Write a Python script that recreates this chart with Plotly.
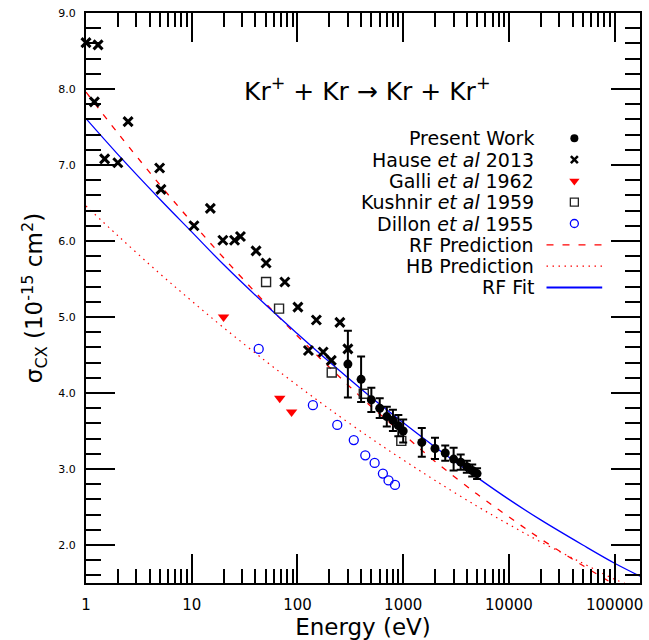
import plotly.graph_objects as go

# ---------------- data ----------------
present_E = [300, 400, 500, 600, 700, 800, 900, 1000, 1500, 2000, 2500, 3000, 3500, 4000, 4500, 5000]
present_sig = [4.38, 4.18, 3.91, 3.80, 3.69, 3.64, 3.57, 3.50, 3.35, 3.27, 3.21, 3.13, 3.09, 3.03, 2.98, 2.94]
present_err = [0.44, 0.30, 0.16, 0.13, 0.13, 0.14, 0.14, 0.15, 0.19, 0.14, 0.10, 0.15, 0.10, 0.08, 0.08, 0.07]

hause_E = [1.0, 1.2, 1.3, 1.5, 2.0, 2.5, 4.97, 5.12, 10.5, 15, 19.7, 25.4, 28.9, 40.6, 50.5, 76, 101, 127, 151, 175, 209, 252, 300]
hause_sig = [8.61, 7.83, 8.58, 7.08, 7.03, 7.57, 6.96, 6.68, 6.20, 6.43, 6.01, 6.01, 6.06, 5.87, 5.71, 5.46, 5.13, 4.56, 4.96, 4.54, 4.43, 4.93, 4.58]

galli_E = [20, 68, 88]
galli_sig = [5.00, 3.93, 3.75]

kushnir_E = [50.5, 67, 211, 424, 960]
kushnir_sig = [5.46, 5.11, 4.27, 3.99, 3.37]

dillon_E = [43, 140, 238, 341, 438, 537, 643, 727, 837]
dillon_sig = [4.58, 3.84, 3.58, 3.38, 3.18, 3.08, 2.94, 2.85, 2.79]

curve_E = [1, 2, 5, 10, 20, 50, 100, 200, 500, 1000, 2000, 5000, 10000, 20000, 50000, 100000, 174000]
rf_pred_sig = [7.96, 7.42, 6.74, 6.25, 5.78, 5.18, 4.75, 4.34, 3.82, 3.46, 3.10, 2.67, 2.37, 2.08, 1.73, 1.48, 1.30]
hb_pred_sig = [6.46, 6.07, 5.57, 5.21, 4.86, 4.42, 4.10, 3.79, 3.40, 3.12, 2.85, 2.51, 2.27, 2.04, 1.76, 1.55, 1.42]
rf_fit_sig = [7.61, 7.14, 6.55, 6.12, 5.69, 5.16, 4.78, 4.41, 3.94, 3.61, 3.29, 2.89, 2.60, 2.33, 2.00, 1.76, 1.59]

x_tick_vals = [1, 10, 100, 1000, 10000, 100000]
x_tick_text = ["1", "10", "100", "1000", "10000", "100000"]

legend_labels = ["Present Work", "Hause <i>et al</i> 2013", "Galli <i>et al</i> 1962",
                 "Kushnir <i>et al</i> 1959", "Dillon <i>et al</i> 1955",
                 "RF Prediction", "HB Prediction", "RF Fit"]

FONT = "DejaVu Sans"
RED = "#ff0000"
BLUE = "#0000ff"

fig = go.Figure()

# curves
fig.add_trace(go.Scatter(x=curve_E, y=rf_pred_sig, mode="lines", line_shape="spline",
                         line=dict(color=RED, width=1.3, dash="6px,8px"), showlegend=False))
fig.add_trace(go.Scatter(x=curve_E, y=hb_pred_sig, mode="lines", line_shape="spline",
                         line=dict(color=RED, width=1.2, dash="1.5px,4.5px"), showlegend=False))
fig.add_trace(go.Scatter(x=curve_E, y=rf_fit_sig, mode="lines", line_shape="spline",
                         line=dict(color=BLUE, width=1.3), showlegend=False))

# data sets
fig.add_trace(go.Scatter(x=dillon_E, y=dillon_sig, mode="markers",
                         marker=dict(symbol="circle-open", size=9, color=BLUE, line=dict(width=1.3)),
                         showlegend=False))
fig.add_trace(go.Scatter(x=kushnir_E, y=kushnir_sig, mode="markers",
                         marker=dict(symbol="square-open", size=9, color="#222222", line=dict(width=1.4)),
                         showlegend=False))
fig.add_trace(go.Scatter(x=galli_E, y=galli_sig, mode="markers",
                         marker=dict(symbol="triangle-down", size=10, color=RED),
                         showlegend=False))
fig.add_trace(go.Scatter(x=hause_E, y=hause_sig, mode="markers", cliponaxis=False,
                         marker=dict(symbol="x-thin-open", size=9, color="black", line=dict(width=3, color="black")),
                         showlegend=False))
fig.add_trace(go.Scatter(x=present_E, y=present_sig, mode="markers",
                         marker=dict(symbol="circle", size=9, color="black"),
                         error_y=dict(type="data", array=present_err, color="black", thickness=2, width=4),
                         showlegend=False))

# ---------------- manual legend (layout) ----------------
L, R, T, B = 86, 6, 13, 57
W, H = 649, 640
pw, ph = W - L - R, H - T - B
def px2paper(xp, yp):
    return (xp - L) / pw, (H - B - yp) / ph

row_y = [138.3, 159.6, 180.9, 202.2, 223.5, 244.8, 266.1, 287.4]
text_x = 538
sym_x = 577
line_x0, line_x1 = 549, 605

for lab, yp in zip(legend_labels, row_y):
    xa, ya = px2paper(text_x, yp)
    fig.add_annotation(x=xa, y=ya, xref="paper", yref="paper", text=lab, showarrow=False,
                       xanchor="right", yanchor="middle", font=dict(family=FONT, size=19, color="black"))

sym_specs = [
    dict(symbol="circle", size=8, color="black"),
    dict(symbol="x-thin-open", size=7, color="black", line=dict(width=2.5, color="black")),
    dict(symbol="triangle-down", size=9, color=RED),
    dict(symbol="square-open", size=8, color="#222222", line=dict(width=1.3)),
    dict(symbol="circle-open", size=8, color=BLUE, line=dict(width=1.3)),
]
for spec, yp in zip(sym_specs, row_y[:5]):
    xa, ya = px2paper(sym_x, yp)
    fig.add_trace(go.Scatter(x=[xa], y=[ya], xaxis="x2", yaxis="y2", mode="markers",
                             marker=spec, showlegend=False, hoverinfo="skip"))

line_specs = [dict(color=RED, width=1.3, dash="7px,9px"),
              dict(color=RED, width=1.2, dash="1.5px,4.5px"),
              dict(color=BLUE, width=2)]
for spec, yp in zip(line_specs, row_y[5:]):
    xa0, ya = px2paper(line_x0, yp)
    xa1, _ = px2paper(line_x1, yp)
    fig.add_shape(type="line", xref="paper", yref="paper", x0=xa0, x1=xa1, y0=ya, y1=ya, line=spec)

# reaction title
tx, ty = px2paper(369, 90)
fig.add_annotation(x=tx, y=ty, xref="paper", yref="paper", showarrow=False,
                   text="Kr<sup>+</sup> + Kr → Kr + Kr<sup>+</sup>",
                   font=dict(family=FONT, size=25, color="black"), xanchor="center", yanchor="middle")

minor_x = [m * 10 ** d for d in range(0, 6) for m in range(2, 10)]

fig.update_layout(
    width=W, height=H,
    margin=dict(l=L, r=R, t=T, b=B),
    paper_bgcolor="white", plot_bgcolor="white",
    font=dict(family=FONT, color="black"),
    xaxis=dict(type="log", range=[0, 5.24], showgrid=False, zeroline=False,
               showline=True, linecolor="black", linewidth=2, mirror="allticks",
               ticks="inside", ticklen=29, tickwidth=2, tickcolor="black",
               tickmode="array", tickvals=x_tick_vals, ticktext=x_tick_text,
               tickfont=dict(size=15, family=FONT), ticklabelstandoff=7,
               minor=dict(ticks="inside", ticklen=14, tickwidth=2, tickcolor="black",
                          tickmode="array", tickvals=minor_x, showgrid=False),
               title=dict(text="Energy (eV)", font=dict(size=23, family=FONT), standoff=3)),
    yaxis=dict(range=[1.5, 9.0], showgrid=False, zeroline=False,
               showline=True, linecolor="black", linewidth=2, mirror="allticks",
               ticks="inside", ticklen=29, tickwidth=2, tickcolor="black",
               tick0=0, dtick=1, tickformat=".1f",
               tickfont=dict(size=11, family=FONT), ticklabelstandoff=6,
               minor=dict(ticks="inside", ticklen=15, tickwidth=2, tickcolor="black",
                          dtick=0.2, showgrid=False),
               title=dict(text="σ<sub>CX</sub> (10<sup>-15</sup> cm<sup>2</sup>)",
                          font=dict(size=23, family=FONT), standoff=9)),
    xaxis2=dict(overlaying="x", range=[0, 1], visible=False, showgrid=False, zeroline=False),
    yaxis2=dict(overlaying="y", range=[0, 1], visible=False, showgrid=False, zeroline=False),
)

fig.write_html("out.html")
